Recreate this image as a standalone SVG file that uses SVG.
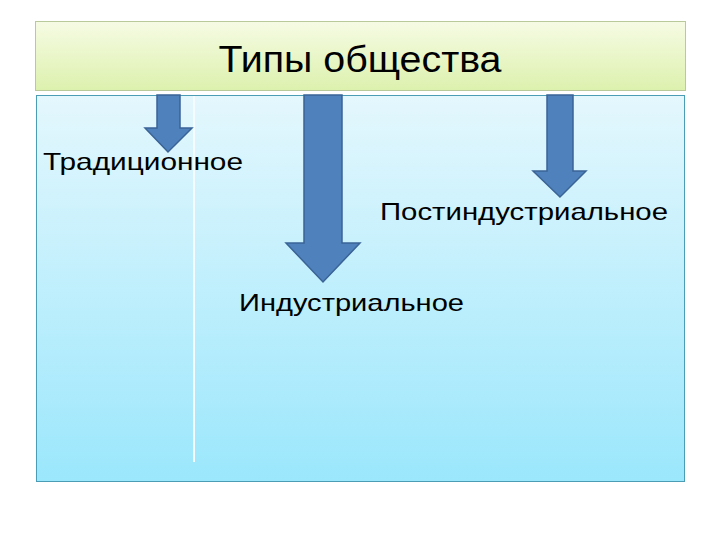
<svg xmlns="http://www.w3.org/2000/svg" width="720" height="540" viewBox="0 0 720 540">
<defs>
<linearGradient id="gTitle" x1="0" y1="0" x2="0" y2="1">
<stop offset="0" stop-color="#F6FBE4"/>
<stop offset="1" stop-color="#DDF1AE"/>
</linearGradient>
<linearGradient id="gBody" x1="0" y1="0" x2="0" y2="1">
<stop offset="0" stop-color="#E4F7FD"/>
<stop offset="1" stop-color="#9BE7FC"/>
</linearGradient>
<style>
.arrow{fill:#4F81BD;stroke:#3A6396;stroke-width:1.5}
.t{font-family:"Liberation Sans",Arial,sans-serif;fill:#000}
</style>
</defs>
<rect width="720" height="540" fill="#fff"/>
<g id="title">
<rect x="35.5" y="21.5" width="650" height="69" fill="url(#gTitle)" stroke="#B9C99A" stroke-width="1"/>
<text class="t" x="360" y="72" font-size="36" text-anchor="middle" textLength="283" lengthAdjust="spacingAndGlyphs">Типы общества</text>
</g>
<g id="body">
<rect x="36.5" y="95.5" width="648" height="386" fill="url(#gBody)" stroke="#4A9DB5" stroke-width="1"/>
<line x1="194" y1="96" x2="194" y2="462" stroke="#F4FCFF" stroke-width="2"/>
</g>
<g id="connectors">
<polygon class="arrow" points="157,95 180,95 180,128 192,128 168,152 145,128 157,128"/>
<polygon class="arrow" points="304,95 342,95 342,243 360,243 323,282 286,243 304,243"/>
<polygon class="arrow" points="547,95 573,95 573,171 586,171 560,197 533,171 547,171"/>
</g>
<g id="n-trad">
<text class="t" x="43" y="170" font-size="24" textLength="200" lengthAdjust="spacingAndGlyphs">Традиционное</text>
</g>
<g id="n-post">
<text class="t" x="380" y="220" font-size="24" textLength="288" lengthAdjust="spacingAndGlyphs">Постиндустриальное</text>
</g>
<g id="n-ind">
<text class="t" x="239" y="311" font-size="24" textLength="225" lengthAdjust="spacingAndGlyphs">Индустриальное</text>
</g>
</svg>
